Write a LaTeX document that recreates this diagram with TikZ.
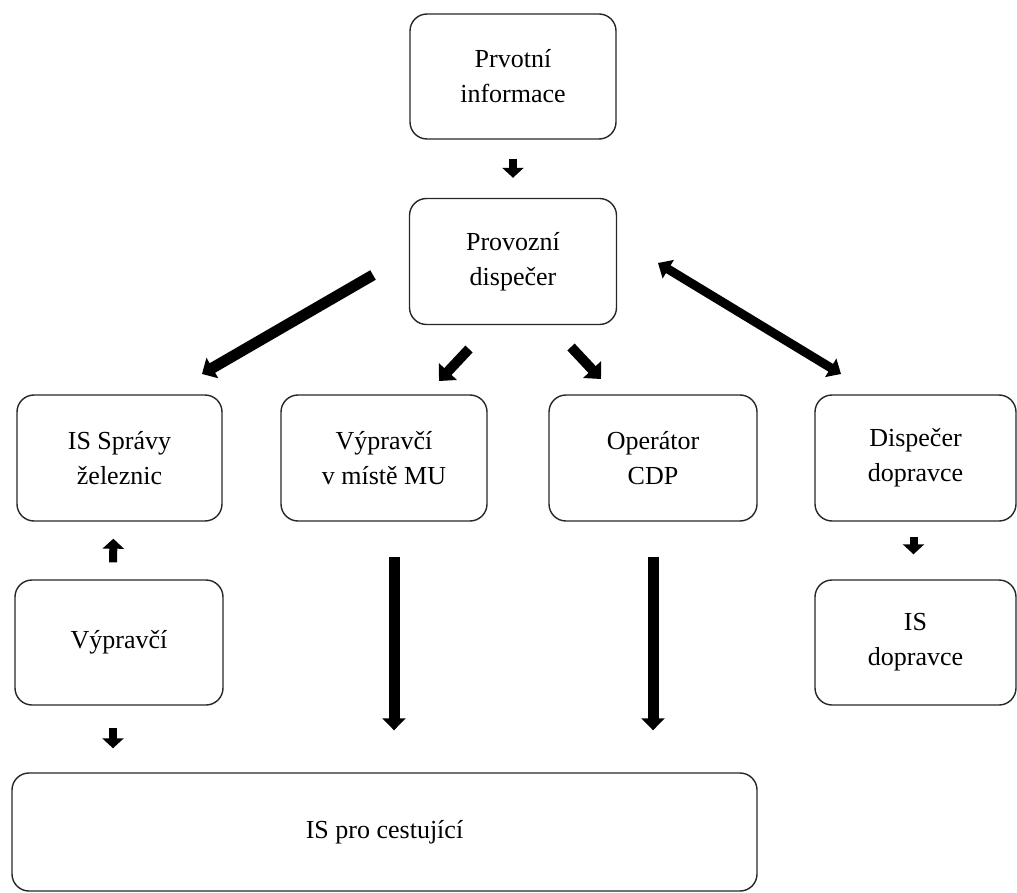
\documentclass[tikz,border=0pt]{standalone}
\usepackage{fontspec}
\setmainfont{Liberation Serif}
\usetikzlibrary{arrows.meta}
\begin{document}
\begin{tikzpicture}[x=1pt,y=-1pt,
  box/.style={draw=black!85,line width=1.4pt,rounded corners=17pt,align=center,
    font=\fontsize{26}{35}\selectfont,inner sep=0pt},
  sarr/.style={line width=8pt,-{Triangle[width=21pt,length=10pt]}},
  darr/.style={line width=10pt,-{Triangle[width=24pt,length=13pt]}},
  larr/.style={line width=11pt,-{Triangle[width=23pt,length=12pt]}},
  barr/.style={line width=9pt,{Triangle[width=21pt,length=12pt]}-{Triangle[width=21pt,length=12pt]}}]
\useasboundingbox (0,0) rectangle (1017,893);
\node[box,minimum width=206pt,minimum height=125pt] (prv) at (513,76.5) {Prvotní\\informace};
\node[box,minimum width=207pt,minimum height=126pt] (prov) at (513,261.5) {Provozní\\dispečer};
\node[box,minimum width=205pt,minimum height=126pt] (issz) at (119.5,458) {IS Správy\\železnic};
\node[box,minimum width=206pt,minimum height=126pt] (vmu) at (384,458) {Výpravčí\\v místě MU};
\node[box,minimum width=208pt,minimum height=126pt] (cdp) at (653,458) {Operátor\\CDP};
\node[box,minimum width=201pt,minimum height=126pt] (dd) at (915.5,458) {Dispečer\\dopravce};
\node[box,minimum width=201pt,minimum height=125pt] (isd) at (915.5,642.5) {IS\\dopravce};
\node[box,minimum width=208pt,minimum height=125pt] (vyp) at (119,642.5) {Výpravčí};
\node[box,minimum width=745pt,minimum height=118pt] (ispc) at (384.5,832) {IS pro cestující};
% diagonal arrow end points
\coordinate (d1s) at (373,275);
\coordinate (d1e) at (202,374);
\coordinate (d2s) at (469,349);
\coordinate (d2e) at (439,381);
\coordinate (d3s) at (571,347);
\coordinate (d3e) at (601,379);
\coordinate (d4s) at (658,263);
\coordinate (d4e) at (841,374);
% arrows
\draw[sarr,shorten <=19pt,shorten >=20pt] (prv.south) -- (prov.north);
\draw[larr] (d1s) -- (d1e);
\draw[darr] (d2s) -- (d2e);
\draw[darr] (d3s) -- (d3e);
\draw[barr] (d4s) -- (d4e);
\draw[sarr,shorten <=17pt,shorten >=17pt] ([xshift=-6pt]vyp.north) -- ([xshift=-6pt]issz.south);
\draw[sarr,shorten <=22pt,shorten >=24pt] ([xshift=-6pt]vyp.south) -- ([xshift=-6pt]vyp.south |- ispc.north);
\draw[larr,shorten <=35pt,shorten >=42pt] ([xshift=10pt]vmu.south) -- ([xshift=10pt]vmu.south |- ispc.north);
\draw[larr,shorten <=35pt,shorten >=42pt] (cdp.south) -- (cdp.south |- ispc.north);
\draw[sarr,shorten <=15pt,shorten >=25pt] ([xshift=-2pt]dd.south) -- ([xshift=-2pt]isd.north);
\end{tikzpicture}
\end{document}
